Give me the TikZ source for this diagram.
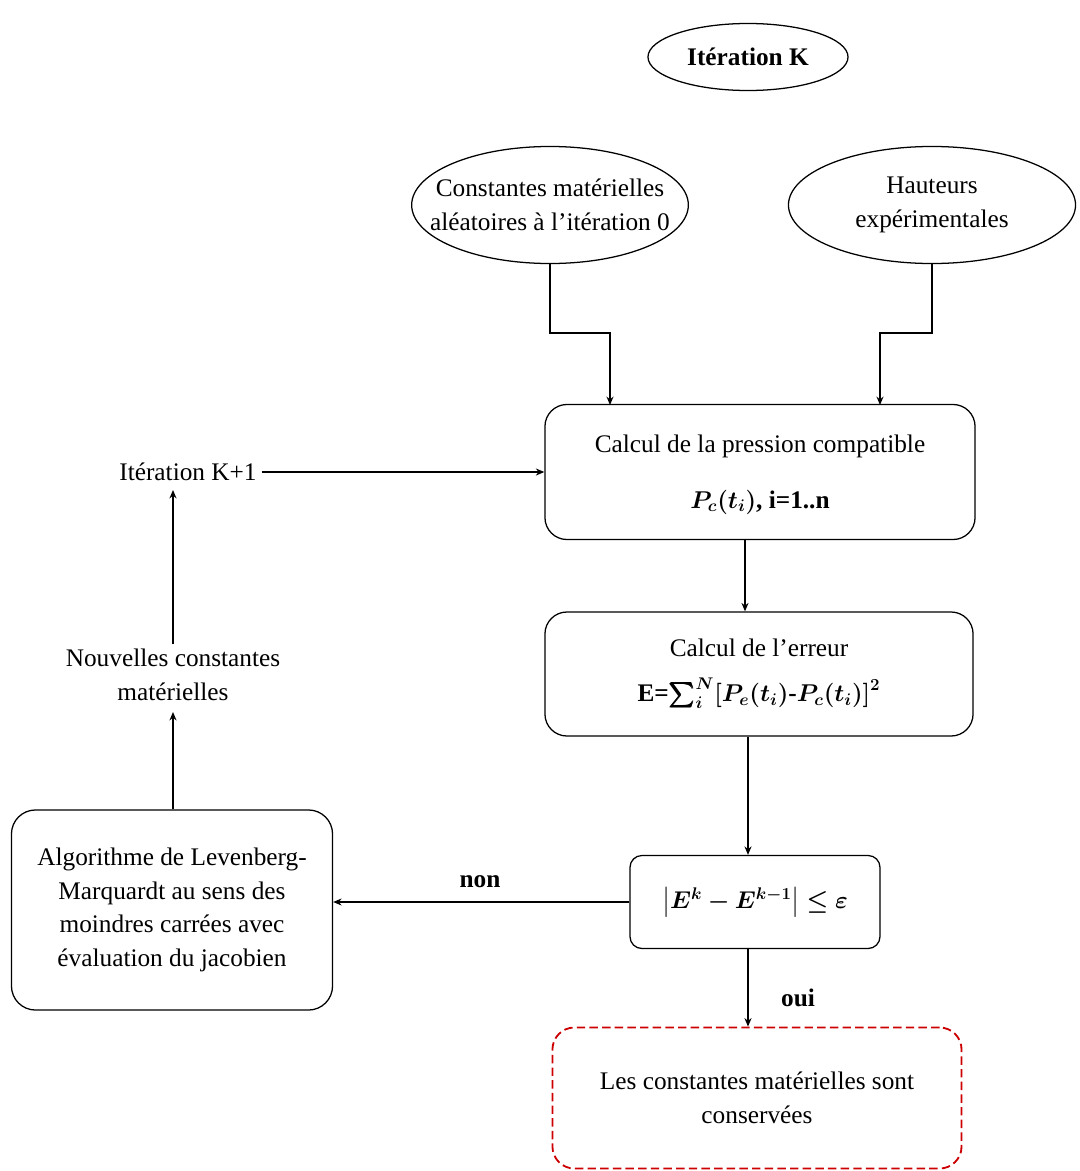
\documentclass[tikz,border=0pt]{standalone}
\usepackage{amsmath}
\usepackage{bm}
\usepackage{fontspec}
\setmainfont{Liberation Serif}
\usetikzlibrary{shapes.geometric,arrows.meta}

\begin{document}
\begin{tikzpicture}[x=0.025cm,y=-0.025cm,
    font=\fontsize{18}{24}\selectfont,
    bulle/.style={draw,ellipse,line width=0.9pt,align=center,inner sep=0pt},
    boite/.style={draw,rounded corners=0.55cm,line width=0.9pt,align=center,inner sep=0pt},
    fleche/.style={-{Stealth[length=6pt,width=5pt]},line width=1.8pt},
    fine/.style={-{Stealth[length=6pt,width=5pt]},line width=0.8pt}]
    \useasboundingbox (0,0) rectangle (1079,1171);
    \node[bulle,minimum width=5cm,minimum height=1.675cm] (iterK) at (748,57) {\textbf{Itération K}};
    \node[bulle,inner xsep=-0.55cm,minimum width=6.9cm,minimum height=2.925cm] (alea) at (550,205) {Constantes matérielles\\aléatoires à l’itération 0};
    \node[bulle,minimum width=7.175cm,minimum height=2.925cm] (haut) at (932,205) {Hauteurs\\expérimentales};
    \node[boite,minimum width=10.75cm,minimum height=3.375cm] (press) at (760,472)
        {\\[-8pt]Calcul de la pression compatible\\[16pt] $\bm{P_c(t_i)}$\textbf{, i=1..n}};
    \node[boite,minimum width=10.7cm,minimum height=3.1cm] (err) at (759,674)
        {Calcul de l’erreur\\[8pt] \textbf{E=}$\bm{\sum_i^N[P_e(t_i)}$\textbf{-}$\bm{P_c(t_i)]^2}$};
    \node[boite,rounded corners=0.3cm,minimum width=6.25cm,minimum height=2.325cm] (test) at (755,902)
        {$\bm{\big|E^k-E^{k-1}\big|\leq\varepsilon}$};
    \node[boite,draw=red!80!black,dashed,dash pattern=on 6pt off 3pt,line width=1.3pt,minimum width=10.225cm,minimum height=3.525cm] (fin) at (757,1098)
        {Les constantes matérielles sont\\conservées};
    \node[boite,rounded corners=0.6cm,minimum width=8.025cm,minimum height=5cm] (lm) at (172,910)
        {Algorithme de Levenberg-\\Marquardt au sens des\\moindres carrées avec\\évaluation du jacobien};
    \node[align=center] (nouv) at (173,675) {Nouvelles constantes\\matérielles};
    \node (iterK1) at (188,472) {Itération K+1};
    \node at (480,882) {\textbf{non}};
    \node at (798,998) {\textbf{oui}};

    \draw[fleche] (alea.south) |- (610,333) -- (610,405);
    \draw[fleche] (haut.south) |- (880,333) -- (880,405);
    \draw[fleche] (iterK1.east) -- (press.west);
    \draw[fleche] (press.south -| 745,0) -- (err.north -| 745,0);
    \draw[fleche] (err.south -| 748,0) -- (test.north -| 748,0);
    \draw[fleche] (test.south -| 748,0) -- (fin.north -| 748,0);
    \draw[fine] (test.west) -- (test.west -| lm.east);
    \draw[fleche] (lm.north -| 173,0) -- (nouv.north |- 0,712);
    \draw[fleche] (nouv.north -| 173,0) -- (173,490);
\end{tikzpicture}
\end{document}
